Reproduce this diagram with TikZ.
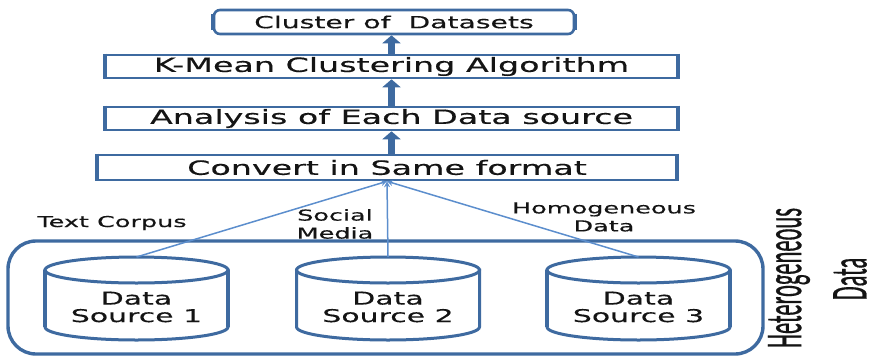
\documentclass[tikz,border=0pt]{standalone}
\usepackage{fontspec}
\usepackage{graphicx}
\usetikzlibrary{arrows.meta}
\newfontfamily\wfont[FakeStretch=1.7,FakeBold=0.4]{DejaVu Sans}
\newfontfamily\hfont[FakeBold=0.6]{Carlito}
\definecolor{bd}{RGB}{62,106,160}
\definecolor{thinblue}{RGB}{92,142,205}
\definecolor{txt}{RGB}{20,20,20}
\begin{document}
\begin{tikzpicture}[x=1pt,y=-1pt,
  stage/.style={draw=bd, line width=2.6pt, fill=white, inner sep=0pt, text=txt,
    font=\wfont\fontsize{19.6}{23}\selectfont},
  side/.style={draw=bd, line width=4.2pt},
  bigarrow/.style={draw=bd, line width=7pt, -{Triangle[width=18pt,length=8pt]}},
  feed/.style={draw=thinblue, line width=1.5pt, -{Stealth[length=6pt,width=6pt]}},
  lbl/.style={text=txt, align=center, inner sep=0pt,
    font=\wfont\fontsize{15}{18}\selectfont},
  cyl/.style={draw=bd, line width=3pt, fill=white},
  cyltext/.style={text=txt, align=center, inner sep=0pt,
    font=\wfont\fontsize{17.6}{17.5}\selectfont},
  hetlbl/.style={text=txt, inner sep=0pt, rotate=90}
]
\useasboundingbox (0,0) rectangle (882,356);

% outer group
\draw[bd, line width=3.4pt, rounded corners=28pt] (8,241) rectangle (763,354);

% cylinders
\foreach \cx/\i in {136.5/1, 388/2, 638.5/3}{
  \path[cyl] (\cx-91.5,270) -- (\cx-91.5,327)
     arc[start angle=180, end angle=0, x radius=91.5, y radius=13]
     -- (\cx+91.5,270) -- cycle;
  \draw[cyl] (\cx,270) ellipse [x radius=91.5, y radius=13];
  \draw[side, line width=3.8pt] (\cx-91.5,270) -- (\cx-91.5,327);
  \draw[side, line width=3.8pt] (\cx+91.5,270) -- (\cx+91.5,327);
  \coordinate (top\i) at (\cx,257);
  \node[cyltext] (ds\i) at (\cx,307) {Data\\Source \i};
}

% stage boxes
\node[stage, minimum width=360pt, minimum height=24pt, rounded corners=6pt,
  font=\wfont\fontsize{16.6}{20}\selectfont] (clu) at (394,22) {Cluster of\ \ Datasets};
\node[stage, minimum width=571pt, minimum height=23pt] (km) at (391.5,66.5) {K-Mean Clustering Algorithm};
\node[stage, minimum width=571pt, minimum height=23pt] (ana) at (391.5,118.5) {Analysis of Each Data source};
\node[stage, minimum width=578pt, minimum height=25pt] (conv) at (387,167.5) {Convert in Same format};

% thicker vertical sides of the stage boxes
\foreach \b in {km,ana,conv}{
  \draw[side] (\b.north west) -- (\b.south west);
  \draw[side] (\b.north east) -- (\b.south east);
}
\draw[side] ([yshift=-5pt]clu.north west) -- ([yshift=5pt]clu.south west);
\draw[side] ([yshift=-5pt]clu.north east) -- ([yshift=5pt]clu.south east);

% thick arrows
\draw[bigarrow] (conv.north -| ana.south) -- (ana.south);
\draw[bigarrow] (ana.north) -- (km.south);
\draw[bigarrow] (km.north) -- (clu.south -| km.north);

% feed lines
\draw[feed] (top1) -- (conv.south);
\draw[feed] (top2) -- (conv.south);
\draw[feed] (top3) -- (conv.south);

% labels
\node[lbl] (lt) at (112,223) {Text Corpus};
\node[lbl] (ls) at (335,224) {Social\\Media};
\node[lbl] (lh) at (604,217) {Homogeneous\\Data};

% side label
\node[hetlbl] (het) at (789,278) {\scalebox{1}[2.3]{\hfont\fontsize{22.5}{27}\selectfont Heterogeneous}};
\node[hetlbl] (hdata) at (850,279) {\scalebox{1}[2.3]{\hfont\fontsize{22.5}{27}\selectfont Data}};
\end{tikzpicture}
\end{document}
